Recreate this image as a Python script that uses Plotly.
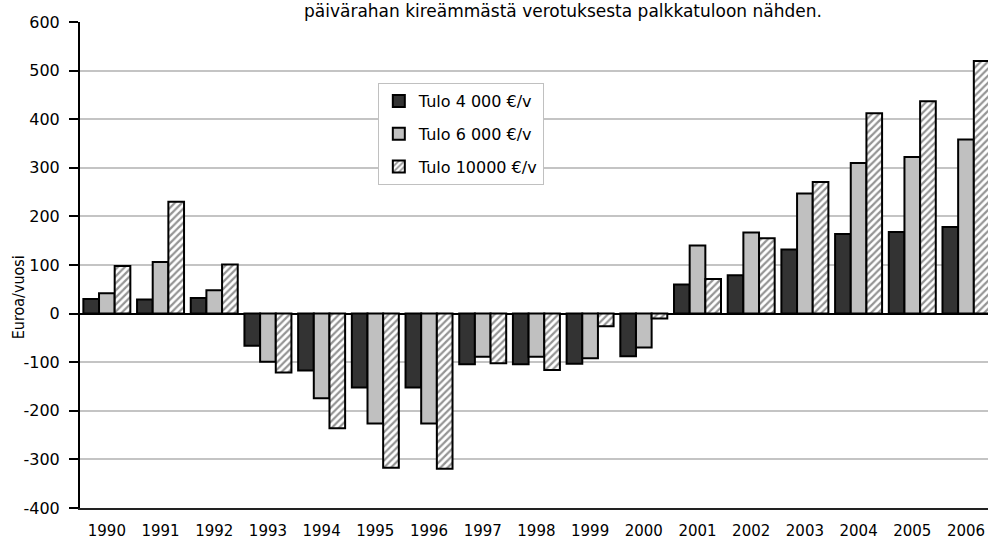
import plotly.graph_objects as go

years = ["1990", "1991", "1992", "1993", "1994", "1995", "1996", "1997", "1998",
         "1999", "2000", "2001", "2002", "2003", "2004", "2005", "2006"]
tulo_4000 = [30, 29, 32, -66, -117, -152, -152, -104, -104, -103, -88, 60, 79, 132, 164, 168, 178]
tulo_6000 = [42, 106, 48, -99, -174, -226, -226, -89, -89, -92, -70, 140, 167, 247, 310, 322, 358]
tulo_10000 = [98, 230, 101, -121, -236, -317, -319, -102, -116, -26, -10, 71, 155, 271, 412, 437, 520]
series_names = ["Tulo 4 000 €/v", "Tulo 6 000 €/v", "Tulo 10000 €/v"]
title_text = "päivärahan kireämmästä verotuksesta palkkatuloon nähden."
y_title = "Euroa/vuosi"
y_ticks = [-400, -300, -200, -100, 0, 100, 200, 300, 400, 500, 600]
y_ticktext = [str(v) for v in y_ticks]

narrow = "Liberation Sans Narrow, Arial Narrow, DejaVu Sans Condensed, sans-serif"
regular = "DejaVu Sans, Verdana, sans-serif"

fig = go.Figure()
fig.add_trace(go.Bar(x=years, y=tulo_4000, name=series_names[0], legendgroup="a",
                     marker=dict(color="#333333", line=dict(color="#000000", width=2))))
fig.add_trace(go.Bar(x=years, y=tulo_6000, name=series_names[1], legendgroup="b",
                     marker=dict(color="#c0c0c0", line=dict(color="#000000", width=2))))
fig.add_trace(go.Bar(x=years, y=tulo_10000, name=series_names[2], legendgroup="c",
                     marker=dict(color="#ffffff", line=dict(color="#000000", width=2),
                                 pattern=dict(shape="/", fgcolor="#2a2a2a", bgcolor="#ffffff",
                                              size=5, solidity=0.45))))

fig.update_layout(
    width=988, height=549,
    margin=dict(l=80, r=0, t=22, b=41),
    paper_bgcolor="white", plot_bgcolor="white",
    barmode="group", bargap=0.125, bargroupgap=0,
    xaxis=dict(type="category", range=[-0.5, 16.41],
               showgrid=False, zeroline=False, ticks="",
               ticklabelstandoff=8, ticklabeloverflow="allow",
               tickfont=dict(family=regular, size=15, color="#000000"),
               showline=True, linecolor="#222222", linewidth=2),
    yaxis=dict(range=[-400, 600], tickvals=y_ticks, ticktext=y_ticktext, showgrid=True,
               gridcolor="#c4c4c4", gridwidth=2,
               zeroline=True, zerolinecolor="#000000", zerolinewidth=2,
               showline=True, linecolor="#000000", linewidth=2,
               ticks="outside", ticklen=9, tickwidth=2, tickcolor="#000000",
               ticklabelstandoff=6,
               tickfont=dict(family=regular, size=16, color="#000000")),
    legend=dict(x=0.328, y=0.8745, xanchor="left", yanchor="top",
                bgcolor="white", bordercolor="#c0c0c0", borderwidth=1,
                font=dict(family=regular, size=16, color="#000000"),
                tracegroupgap=9, traceorder="grouped"),
    showlegend=True,
    annotations=[
        dict(text=title_text, xref="paper", yref="paper", x=0.532, y=1.0235,
             xanchor="center", yanchor="middle", showarrow=False,
             font=dict(family=regular, size=17, color="#000000")),
        dict(text=y_title, xref="paper", yref="paper", x=-0.068, y=0.434,
             xanchor="center", yanchor="middle", textangle=-90, showarrow=False,
             font=dict(family=narrow, size=16, color="#000000")),
    ],
)

fig.write_html("out.html", config={"displayModeBar": False},
               post_script="document.body.style.margin='0';")
